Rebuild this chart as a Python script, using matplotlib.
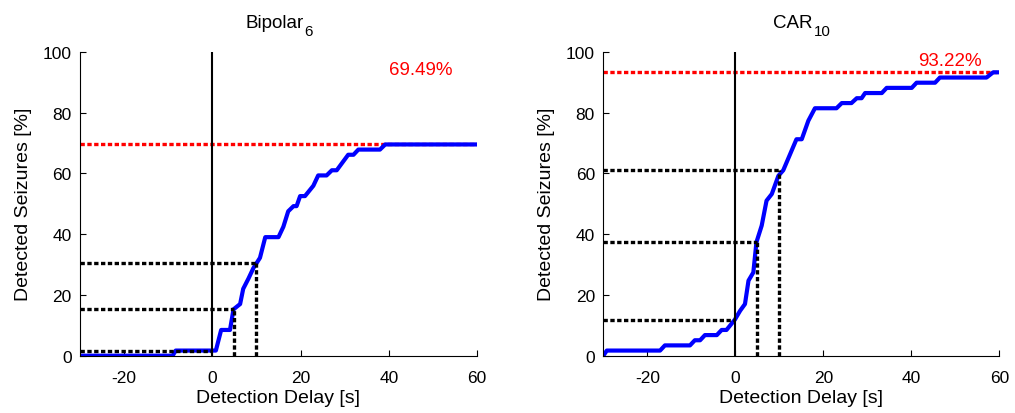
import matplotlib
matplotlib.use('Agg')
import matplotlib.pyplot as plt

plt.rcParams['font.family'] = ['Liberation Sans', 'DejaVu Sans']
plt.rcParams['axes.unicode_minus'] = False

# Bipolar_6 cumulative detection curve
bip_delay = [-30, -9.0, -8.3, 0.8, 2.0, 4.0, 4.8, 6.3, 7.0, 8.2, 9.3, 10.8, 12.0, 15.0,
             16.1, 17.2, 18.4, 19.1, 19.9, 21.0, 22.9, 24.0, 25.9, 27.1, 28.2, 30.8,
             32.0, 33.1, 38.0, 39.2, 60]
bip_det = [0, 0, 1.69, 1.69, 8.47, 8.47, 15.25, 17.0, 22.0, 25.4, 28.8, 32.2, 39.0, 39.0,
           42.4, 47.5, 49.2, 49.2, 52.5, 52.5, 55.9, 59.3, 59.3, 61.0, 61.0, 66.1,
           66.1, 67.8, 67.8, 69.49, 69.49]

# CAR_10 cumulative detection curve
car_delay = [-30, -29.2, -17.1, -16.0, -10.3, -9.2, -8.0, -6.9, -4.2, -3.1, -2.0, -0.1,
             1.1, 2.2, 3.0, 4.1, 4.8, 6.0, 7.1, 8.3, 9.8, 10.9, 13.9, 15.1, 16.6, 18.1,
             23.0, 24.2, 26.4, 27.6, 28.7, 29.5, 33.3, 34.4, 40.1, 41.2, 45.4, 46.5,
             57.1, 58.6, 60]
car_det = [0, 1.69, 1.69, 3.39, 3.39, 5.08, 5.08, 6.78, 6.78, 8.47, 8.47, 11.86,
           14.8, 17.0, 24.7, 27.4, 37.3, 42.8, 51.0, 53.2, 59.2, 61.0, 71.2, 71.2, 77.3, 81.4,
           81.4, 83.1, 83.1, 84.7, 84.7, 86.4, 86.4, 88.1, 88.1, 89.8, 89.8, 91.5,
           91.5, 93.22, 93.22]

marks = [0, 5, 10]
bip_at = [1.69, 15.25, 30.51]
car_at = [11.86, 37.29, 61.02]
bip_total = 69.49
car_total = 93.22

title_main = ['Bipolar', 'CAR']
title_sub = ['6', '10']
xticks = [-20, 0, 20, 40, 60]
yticks = [0, 20, 40, 60, 80, 100]

W, H = 1015, 414
fig = plt.figure(figsize=(W / 100, H / 100), dpi=100)
ax1 = fig.add_axes([80 / W, 57.3 / H, 397 / W, 304 / H])
ax2 = fig.add_axes([603.3 / W, 57.3 / H, 396 / W, 304 / H])

dots = (0, (1.3, 0.75))


def sub_title(ax, main, sub):
    # title with a MATLAB-style subscript, centred over the axes
    r = fig.canvas.get_renderer()
    t1 = fig.text(0, 0, main, fontsize=13.5)
    t2 = fig.text(0, 0, sub, fontsize=10.8)
    w1 = t1.get_window_extent(r).width
    w2 = t2.get_window_extent(r).width
    bb = ax.get_position()
    cx = (bb.x0 + bb.width / 2) * W
    x0 = cx - (w1 + w2) / 2
    base = H - 28
    t1.set_position((x0 / W, base / H))
    t1.set_va('baseline')
    t2.set_position(((x0 + w1 + 1) / W, (base - 8) / H))
    t2.set_va('baseline')


panels = [
    (ax1, bip_delay, bip_det, bip_at, bip_total, 0, (40, 94)),
    (ax2, car_delay, car_det, car_at, car_total, 1, (41.5, 97)),
]
for ax, dx, dy, at, total, k, txt in panels:
    ax.plot([-30, 60], [total, total], color='red', lw=2.4, ls=dots,
            dash_capstyle='butt')
    ax.plot(dx, dy, color='blue', lw=3.0, solid_joinstyle='round')
    for d, v in zip(marks, at):
        ax.plot([-30, d], [v, v], color='black', lw=2.4, ls=dots, dash_capstyle='butt')
        if d != 0:
            ax.plot([d, d], [0, v], color='black', lw=2.4, ls=dots, dash_capstyle='butt')
    ax.plot([0, 0], [0, 100], color='black', lw=1.5)
    ax.text(txt[0], txt[1], '%.2f%%' % total, color='red', fontsize=13.5, va='center')

    ax.set_xlim(-30, 60)
    ax.set_ylim(0, 100)
    ax.set_xticks(xticks)
    ax.set_yticks(yticks)
    ax.spines['top'].set_visible(False)
    ax.spines['right'].set_visible(False)
    ax.tick_params(direction='in', length=4, width=0.8, labelsize=12.5)
    ax.tick_params(axis='x', pad=10)
    ax.tick_params(axis='y', pad=6)
    ax.set_xlabel('Detection Delay [s]', fontsize=14, labelpad=3.5)
    ax.set_ylabel('Detected Seizures [%]', fontsize=14, labelpad=8)
    sub_title(ax, title_main[k], title_sub[k])

fig.savefig('out.png', dpi=100)
